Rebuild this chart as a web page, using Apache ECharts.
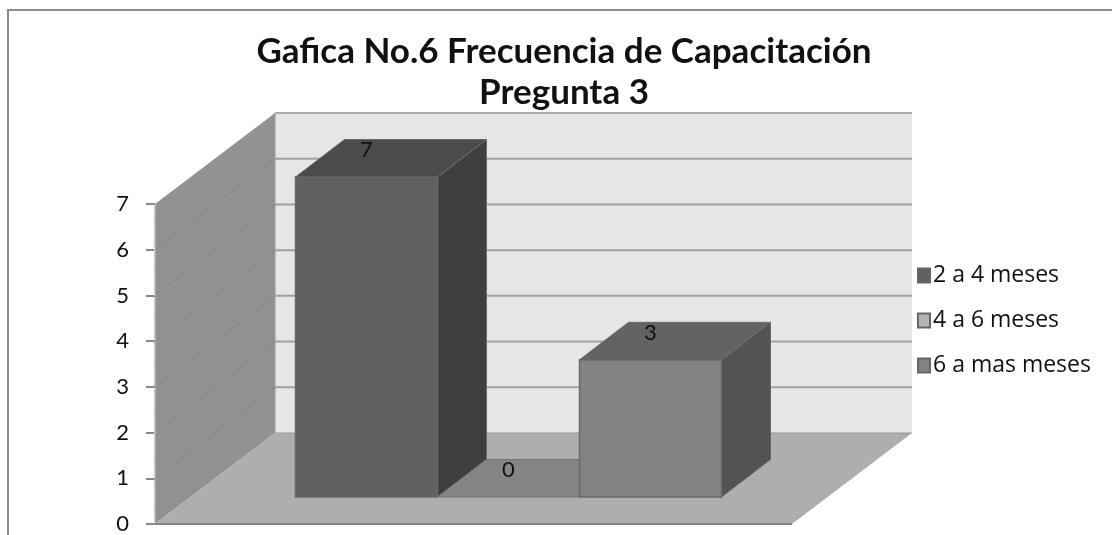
<!DOCTYPE html>
<html>
<head>
<meta charset="utf-8">
<style>html,body{margin:0;padding:0;background:#fff}#c{width:1112px;height:535px}</style>
<script src="https://cdn.jsdelivr.net/npm/echarts@6/dist/echarts.min.js"></script>
</head>
<body>
<div id="c"></div>
<script>
var titleText = 'Gafica No.6 Frecuencia de Capacitación\nPregunta 3';
var categories = ['Frecuencia'];
var seriesNames = ['2 a 4 meses', '4 a 6 meses', '6 a mas meses'];
var values2a4 = [7];
var values4a6 = [0];
var values6aMas = [3];
var yTicks = [0, 1, 2, 3, 4, 5, 6, 7];

var chart = echarts.init(document.getElementById('c'), null, {renderer: 'canvas'});
var FONT = 'Lato, "Open Sans", sans-serif';
var WALL = {dx: 120, dy: -91};
var BASE = {dx: 35, dy: -27};
var DEPTH = {dx: 49, dy: -37.5};
var BARW = 142 / 637;

var shades = [
  {front: '#606060', top: '#4b4b4b', side: '#3f3f3f', edge: '#6a6a6a', legend: '#606060'},
  {front: '#b4b4b4', top: '#858585', side: '#6e6e6e', edge: '#757575', legend: '#b4b4b4'},
  {front: '#828282', top: '#636363', side: '#535353', edge: '#6a6a6a', legend: '#828282'}
];

function poly(points, fill, stroke, w) {
  return {type: 'polygon', shape: {points: points}, silent: true,
    style: {fill: fill, stroke: stroke || fill, lineWidth: w === undefined ? 1 : w}};
}
function seg(a, b, color, w, dash) {
  return {type: 'line', shape: {x1: a[0], y1: a[1], x2: b[0], y2: b[1]}, silent: true,
    style: {stroke: color, lineWidth: w, lineDash: dash || null}};
}
function off(p, o) { return [p[0] + o.dx, p[1] + o.dy]; }

function renderWalls(params, api) {
  var band = api.size([1, 0])[0];
  var cx = api.coord([0, 0])[0];
  var xL = cx - band / 2, xR = cx + band / 2;
  var y0 = api.coord([0, yTicks[0]])[1];
  var yT = api.coord([0, yTicks[yTicks.length - 1]])[1];
  var fl = [xL, y0], fr = [xR, y0], tl = [xL, yT];
  var children = [
    poly([off(fl, WALL), off(fr, WALL), off([xR, yT], WALL), off(tl, WALL)], '#e6e6e6', '#e6e6e6', 0),
    poly([fl, off(fl, WALL), off(tl, WALL), tl], '#929292', '#929292', 0),
    poly([fl, fr, off(fr, WALL), off(fl, WALL)], '#aeaeae', '#aeaeae', 0)
  ];
  yTicks.forEach(function (t) {
    var y = api.coord([0, t])[1];
    if (t > 0) {
      children.push(seg(off([xL, y], WALL), off([xR, y], WALL), '#a0a0a0', 2));
      if (t < 7) children.push(seg([xL, y], off([xL, y], WALL), '#868686', 1));
    }
  });
  children.push(seg(off(tl, WALL), off([xR, yT], WALL), '#b0b0b0', 2, [2, 1]));
  children.push(seg(tl, fl, '#b8b8b8', 2, [2, 1]));
  children.push(seg(off(fl, WALL), off(tl, WALL), '#9c9c9c', 1));
  children.push(seg(off(fl, WALL), off(fr, WALL), '#989898', 1));
  children.push(seg(fl, fr, '#858585', 2));
  return {type: 'group', children: children};
}

function makeRender(i) {
  return function (params, api) {
    var val = api.value(1);
    var band = api.size([1, 0])[0];
    var w = band * BARW;
    var c = api.coord([0, 0]);
    var h = api.coord([0, 0])[1] - api.coord([0, val])[1];
    var x0 = c[0] + (i - 1.5) * w + BASE.dx;
    var x1 = x0 + w;
    var yB = c[1] + BASE.dy;
    var yF = yB - h;
    var s = shades[i];
    var children = [];
    if (val > 0) {
      children.push(poly([[x1, yB], off([x1, yB], DEPTH), off([x1, yF], DEPTH), [x1, yF]], s.side, s.edge, 1));
      children.push(poly([[x0, yB], [x1, yB], [x1, yF], [x0, yF]], s.front, s.edge, 1.5));
    }
    children.push(poly([[x0, yF], [x1, yF], off([x1, yF], DEPTH), off([x0, yF], DEPTH)], s.top, s.edge, 1));
    children.push({type: 'text', silent: true, style: {
      text: String(val), x: (x0 + x1) / 2, y: yF - 27, align: 'center', verticalAlign: 'middle',
      font: '22px ' + FONT, fill: '#111'
    }});
    return {type: 'group', children: children};
  };
}

function barSeries(i, vals) {
  return {
    name: seriesNames[i], type: 'custom', coordinateSystem: 'cartesian2d',
    renderItem: makeRender(i), clip: false, z: 3 + i,
    encode: {x: 0, y: 1},
    itemStyle: {color: shades[i].legend, borderColor: '#666', borderWidth: 2},
    data: vals.map(function (v, k) { return [k, v]; })
  };
}

chart.setOption({
  animation: false,
  backgroundColor: '#fff',
  title: {
    text: titleText, left: 559, top: 26, textAlign: 'center',
    textStyle: {fontFamily: FONT, fontWeight: 'bold', fontSize: 35, lineHeight: 41, color: '#111'}
  },
  grid: {left: 155, top: 204, width: 637, height: 320},
  legend: {
    orient: 'vertical', left: 912, top: 259, itemWidth: 12, itemHeight: 14, itemGap: 22,
    data: seriesNames, icon: 'rect', selectedMode: false,
    textStyle: {fontFamily: '"Open Sans", sans-serif', fontSize: 23, color: '#111', padding: [0, 0, 0, -2]}
  },
  xAxis: {
    type: 'category', data: categories,
    axisLine: {show: false}, axisTick: {show: false}, axisLabel: {show: false}, splitLine: {show: false}
  },
  yAxis: {
    type: 'value', min: 0, max: 7, interval: 1,
    axisLine: {show: false},
    axisTick: {show: true, length: 9, lineStyle: {color: '#888', width: 2}},
    axisLabel: {fontFamily: FONT, fontSize: 22, color: '#111', margin: 26},
    splitLine: {show: false}
  },
  graphic: [
    {type: 'rect', shape: {x: 7, y: 9, width: 1105, height: 2}, style: {fill: '#8c8c8c'}},
    {type: 'rect', shape: {x: 7, y: 9, width: 2, height: 526}, style: {fill: '#8c8c8c'}}
  ],
  series: [
    {name: 'walls', type: 'custom', coordinateSystem: 'cartesian2d', renderItem: renderWalls,
     clip: false, z: 1, silent: true, encode: {x: 0, y: 1}, data: [[0, 0]]},
    barSeries(0, values2a4),
    barSeries(1, values4a6),
    barSeries(2, values6aMas)
  ]
});
</script>
</body>
</html>
